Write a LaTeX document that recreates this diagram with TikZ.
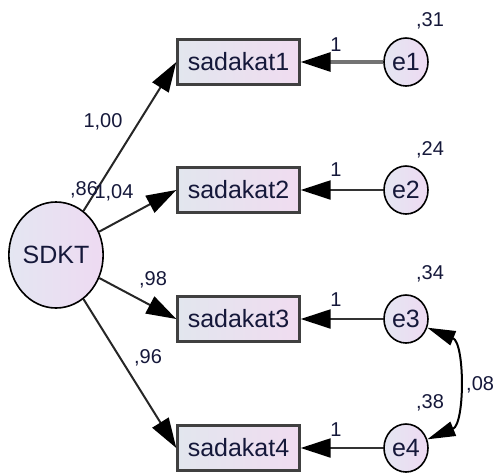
\documentclass[tikz,border=0pt]{standalone}
\usepackage{fontspec}
\setmainfont{Liberation Sans}
\usetikzlibrary{shapes.geometric,arrows.meta}
\definecolor{inkc}{HTML}{15183A}
\definecolor{boxl}{HTML}{E2E6EE}
\definecolor{boxr}{HTML}{F0DCF0}
\definecolor{ovl}{HTML}{E4E6F2}
\definecolor{ovr}{HTML}{EEDAF2}
\tikzset{
  obsbox/.style={rectangle, draw=black!75, line width=2.4pt, left color=boxl, right color=boxr,
    minimum width=122pt, minimum height=45pt, inner sep=0pt, text=inkc,
    font=\fontsize{25}{30}\selectfont},
  latent/.style={ellipse, draw=black, line width=1.6pt, left color=ovl, right color=ovr,
    inner sep=0pt, text=inkc, font=\fontsize{25}{30}\selectfont},
  errnode/.style={latent, minimum width=44pt, minimum height=48pt},
  path/.style={draw=black!85, line width=2pt, -{Triangle[length=30pt,width=19pt,color=black]}},
  errpath/.style={draw=black!80, line width=2.2pt, -{Triangle[length=30pt,width=19pt,color=black]}},
  covpath/.style={draw=black, line width=2pt, {Triangle[length=28pt,width=15pt]}-{Triangle[length=28pt,width=15pt]}},
  est/.style={text=inkc, font=\fontsize{20}{24}\selectfont, inner sep=0pt}
}
\begin{document}
\begin{tikzpicture}[x=1pt,y=-1pt]
\useasboundingbox (0,0) rectangle (493,475);

% latent factor
\node[latent, minimum width=88pt, minimum height=106pt] (sdkt) at (56,255) {SDKT};

% observed indicators
\node[obsbox] (s1) at (238.5,62) {sadakat1};
\node[obsbox] (s2) at (238.5,190) {sadakat2};
\node[obsbox] (s3) at (238.5,319) {sadakat3};
\node[obsbox] (s4) at (238.5,448) {sadakat4};

% error terms
\node[errnode] (e1) at (406,62) {e1};
\node[errnode] (e2) at (406,190) {e2};
\node[errnode] (e3) at (406,319) {e3};
\node[errnode] (e4) at (406,448) {e4};

% factor loadings
\draw[path] (sdkt) -- (s1.west);
\draw[path] (sdkt) -- (s2.west);
\draw[path] (sdkt) -- (s3.west);
\draw[path] (sdkt) -- (s4.west);

% error paths
\draw[errpath, draw=black!55, line width=3.2pt] (e1) -- (s1);
\draw[errpath] (e2) -- (s2);
\draw[errpath] (e3) -- (s3);
\draw[errpath] (e4) -- (s4);

% error covariance
\draw[covpath] (e3) .. controls (465,343) and (465,424) .. (e4);

% estimates
\node[est] (l1) at (103,122) {1,00};
\node[est] (v0) at (84,190) {,86};
\node[est] (l2) at (114,193) {1,04};
\node[est] (l3) at (153,280) {,98};
\node[est] (l4) at (148,358) {,96};

\node[est] (f1) at (336,45) {1};
\node[est] (f2) at (336,170) {1};
\node[est] (f3) at (336,300) {1};
\node[est] (f4) at (336,430) {1};

\node[est] (v1) at (430,21) {,31};
\node[est] (v2) at (430,150) {,24};
\node[est] (v3) at (430,274) {,34};
\node[est] (v4) at (430,403) {,38};
\node[est, anchor=west] (c34) at (466,385) {,08};
\end{tikzpicture}
\end{document}
